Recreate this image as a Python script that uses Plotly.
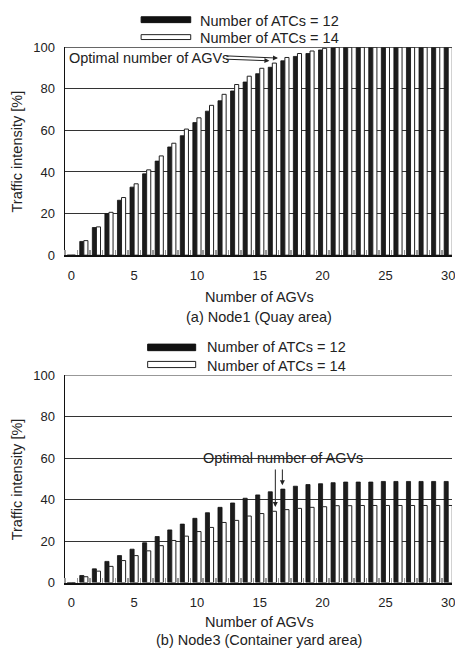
import plotly.graph_objects as go
from plotly.subplots import make_subplots

agvs = list(range(0, 31))

node1_atc12 = [0, 6.6, 13.3, 19.9, 26.4, 32.7, 39.1, 45.2, 52.0, 57.4, 63.7, 69.2, 74.2, 78.9, 83.2,
               87.2, 90.3, 93.4, 95.5, 96.9, 98.6, 99.7, 100, 100, 100, 100, 100, 100, 100, 100, 100]
node1_atc14 = [0, 7.0, 13.6, 20.6, 27.7, 34.3, 41.0, 47.7, 53.8, 60.6, 66.0, 72.0, 77.3, 82.0, 86.0,
               89.8, 92.3, 95.0, 96.9, 98.1, 99.4, 100, 100, 100, 100, 100, 100, 100, 100, 100, 100]
node3_atc12 = [0, 3.4, 6.6, 10.2, 13.0, 16.1, 19.2, 22.2, 25.4, 28.2, 31.0, 33.7, 36.3, 38.4, 40.7,
               42.3, 43.8, 45.1, 46.5, 47.3, 47.7, 48.2, 48.5, 48.5, 48.5, 48.8, 48.8, 48.8, 48.8, 48.8, 48.8]
node3_atc14 = [0, 2.8, 5.5, 7.8, 10.6, 13.0, 15.3, 17.8, 20.3, 22.4, 24.6, 26.6, 29.0, 30.0, 32.1,
               33.3, 34.4, 35.2, 35.8, 36.3, 36.6, 37.1, 37.1, 37.2, 37.2, 37.2, 37.2, 37.2, 37.2, 37.2, 37.2]

y_ticks = [0, 20, 40, 60, 80, 100]
series_names = ["Number of ATCs = 12", "Number of ATCs = 14"]
x_title = "Number of AGVs"
y_title = "Traffic intensity [%]"
subtitles = ["(a) Node1 (Quay area)", "(b) Node3 (Container yard area)"]
note = "Optimal number of AGVs"

FONT = "Liberation Sans, Arial, sans-serif"
TXT = "#222222"

fig = make_subplots(rows=2, cols=1)

for row, (s12, s14) in enumerate([(node1_atc12, node1_atc14), (node3_atc12, node3_atc14)], start=1):
    fig.add_trace(go.Bar(x=agvs, y=s12, name=series_names[0], showlegend=False, hoverinfo="skip",
                         marker=dict(color="#1c1c1c", line=dict(color="#111111", width=0.8))),
                  row=row, col=1)
    fig.add_trace(go.Bar(x=agvs, y=s14, name=series_names[1], showlegend=False, hoverinfo="skip",
                         marker=dict(color="#ffffff", line=dict(color="#222222", width=1))),
                  row=row, col=1)

H = 656.0
W_PLOT = 390.0
L = 65.0

def py(p):
    return 1 - p / H

def px(p):
    return (p - L) / W_PLOT

xaxis_common = dict(range=[-0.5, 30.3], tickmode="linear", tick0=0, dtick=5, ticks="",
                    showgrid=False, showline=True, linecolor="#111111", linewidth=2,
                    zeroline=False, tickfont=dict(size=13, color=TXT, family=FONT),
                    ticklabeloverflow="allow", ticklabelstandoff=7,
                    minor=dict(ticks="inside", tick0=0.5, dtick=1, ticklen=5, tickwidth=1.5,
                               tickcolor="#999999", showgrid=False))
yaxis_common = dict(range=[0, 100], tickvals=y_ticks, ticks="", showgrid=True,
                    gridcolor="#333333", gridwidth=1, showline=True, linecolor="#111111",
                    linewidth=1.5, zeroline=False, tickfont=dict(size=13, color=TXT, family=FONT),
                    ticklabelstandoff=6)

fig.update_layout(
    xaxis=dict(domain=[0, 1], anchor="y", **xaxis_common),
    yaxis=dict(domain=[py(254), py(41)], anchor="x", **yaxis_common),
    xaxis2=dict(domain=[0, 1], anchor="y2", **xaxis_common),
    yaxis2=dict(domain=[py(589), py(377)], anchor="x2", **yaxis_common),
)

for xr, yr in [("x", "y"), ("x2", "y2")]:
    fig.add_shape(type="line", xref=f"{xr} domain", yref=yr, x0=0, x1=1, y0=100, y1=100,
                  line=dict(color="#333333", width=1.2))

def txt(x, y, text, xanchor="center", **kw):
    d = dict(xref="paper", yref="paper", x=x, y=y, text=text, showarrow=False,
             xanchor=xanchor, yanchor="middle", font=dict(size=14.5, color=TXT, family=FONT))
    d.update(kw)
    return d

annotations = []
for pc in [147.5, 483]:
    annotations.append(txt(px(17), py(pc), y_title, textangle=-90))
for t_y, s_y, sub in [(297, 317, subtitles[0]), (629, 648, subtitles[1])]:
    annotations.append(txt(px(261), py(t_y), x_title))
    annotations.append(txt(px(261), py(s_y), sub))

for (bx0, bx1, b_top, w_top, t_x, t1, t2) in [
        (141.7, 191.7, (10, 16), (28.3, 33.3), 199, 14, 31.5),
        (148.3, 196.7, (345, 351.7), (362.7, 369), 205.7, 348, 367)]:
    fig.add_shape(type="rect", xref="paper", yref="paper", x0=px(bx0), x1=px(bx1),
                  y0=py(b_top[1]), y1=py(b_top[0]), fillcolor="#111111",
                  line=dict(color="#111111", width=1))
    fig.add_shape(type="rect", xref="paper", yref="paper", x0=px(bx0), x1=px(bx1),
                  y0=py(w_top[1]), y1=py(w_top[0]), fillcolor="#ffffff",
                  line=dict(color="#222222", width=1))
    annotations.append(txt(px(t_x), py(t1), series_names[0], xanchor="left"))
    annotations.append(txt(px(t_x), py(t2), series_names[1], xanchor="left"))

annotations.append(dict(xref="x", yref="y", x=-0.35, y=94.8, xanchor="left", yanchor="middle",
                        text=note, showarrow=False, font=dict(size=14.5, color=TXT, family=FONT)))
for (tx, ty, hx, hy) in [(12.2, 95.8, 16.45, 94.7), (12.2, 94.2, 15.77, 93.4)]:
    annotations.append(dict(xref="x", yref="y", axref="x", ayref="y", x=hx, y=hy, ax=tx, ay=ty,
                            text="", showarrow=True, arrowhead=2, arrowsize=1, arrowwidth=1,
                            arrowcolor="#222222"))

annotations.append(dict(xref="x2", yref="y2", x=16.85, y=60.3, xanchor="center", yanchor="middle",
                        text=note, showarrow=False, font=dict(size=14.5, color=TXT, family=FONT)))
for (tx, ty, hx, hy) in [(16.24, 55.3, 16.24, 36.5), (16.8, 55.3, 16.8, 47.0)]:
    annotations.append(dict(xref="x2", yref="y2", axref="x2", ayref="y2", x=hx, y=hy, ax=tx, ay=ty,
                            text="", showarrow=True, arrowhead=2, arrowsize=1, arrowwidth=1,
                            arrowcolor="#222222"))

fig.update_layout(
    width=455, height=656,
    margin=dict(l=65, r=0, t=0, b=0),
    paper_bgcolor="white", plot_bgcolor="white",
    barmode="group", bargap=0.35, bargroupgap=0,
    showlegend=False, hovermode=False,
    font=dict(family=FONT, color=TXT),
    annotations=annotations,
)

fig.write_html("out.html", config={"displayModeBar": False, "staticPlot": True},
               post_script="document.body.style.margin='0px';document.body.style.overflow='hidden';")
